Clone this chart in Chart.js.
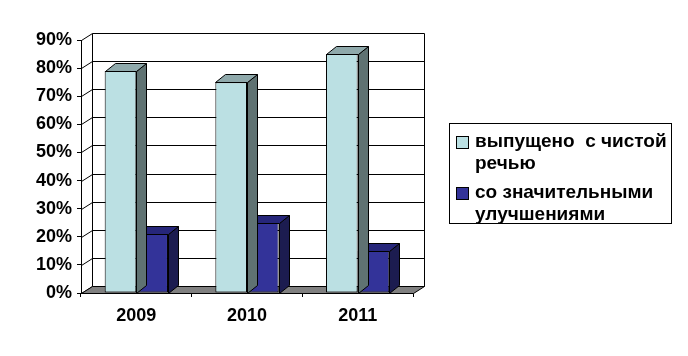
<!DOCTYPE html>
<html><head><meta charset="utf-8">
<script src="https://cdn.jsdelivr.net/npm/chart.js@4"></script>
<style>
html,body{margin:0;padding:0;background:#fff;}
#wrap{position:relative;width:688px;height:356px;overflow:hidden;}
#c{position:absolute;left:0;top:0;}
#legend{position:absolute;left:449px;top:123px;width:223px;height:101px;border:1px solid #000;box-sizing:border-box;background:#fff;
 font:bold 19px "Liberation Sans",Arial,sans-serif;color:#000;}
.item{position:absolute;left:0;}
.mk{position:absolute;left:6px;width:13px;height:13px;box-sizing:border-box;border:1px solid #000;}
.tx{position:absolute;left:25px;line-height:22px;white-space:pre;}
</style>
</head><body>
<div id="wrap"><canvas id="c" width="688" height="356"></canvas><div id="legend"></div></div>
<script>
const categories = ["2009", "2010", "2011"];
const seriesNames = [["выпущено  с чистой", "речью"], ["со значительными", "улучшениями"]];
const cleanSpeech = [79, 75, 85];
const improved = [21, 25, 15];
const yTicks = [0, 10, 20, 30, 40, 50, 60, 70, 80, 90];

const FONT = '"Liberation Sans", Arial, sans-serif';
const frontColors = ["#BBE0E3", "#333399"];
const topColors = ["#8FA9AB", "#26267A"];
const sideColors = ["#5F7272", "#1C1C50"];
const WDX = 11, WDY = -7;   // wall depth
const BDX = 10, BDY = -8;   // bar depth

function poly(ctx, pts, fill) {
  ctx.beginPath();
  ctx.moveTo(pts[0][0], pts[0][1]);
  for (let i = 1; i < pts.length; i++) ctx.lineTo(pts[i][0], pts[i][1]);
  ctx.closePath();
  if (fill) { ctx.fillStyle = fill; ctx.fill(); }
  ctx.strokeStyle = "#000"; ctx.lineWidth = 1; ctx.stroke();
}

const threeD = {
  id: "threeD",
  beforeDatasetsDraw(chart) {
    const ctx = chart.ctx, a = chart.chartArea, ys = chart.scales.y;
    ctx.save();
    ctx.translate(0.5, 0.5);
    const L = Math.round(a.left), R = Math.round(a.right), B = Math.round(a.bottom);
    ctx.strokeStyle = "#000"; ctx.lineWidth = 1;
    yTicks.forEach(v => {
      const y = Math.round(ys.getPixelForValue(v));
      ctx.beginPath();
      ctx.moveTo(L, y); ctx.lineTo(L + WDX, y + WDY);
      ctx.lineTo(R + WDX, y + WDY);
      ctx.stroke();
    });
    const T = Math.round(ys.getPixelForValue(yTicks[yTicks.length - 1]));
    ctx.beginPath();
    ctx.moveTo(L + WDX, T + WDY); ctx.lineTo(L + WDX, B + WDY);
    ctx.moveTo(R + WDX, T + WDY); ctx.lineTo(R + WDX, B + WDY);
    ctx.stroke();
    poly(ctx, [[L, B], [R, B], [R + WDX, B + WDY], [L + WDX, B + WDY]], "#808080");
    ctx.restore();
  },
  afterDatasetDraw(chart, args) {
    const ctx = chart.ctx, meta = chart.getDatasetMeta(args.index);
    const i = args.index;
    ctx.save();
    ctx.translate(0.5, 0.5);
    meta.data.forEach(bar => {
      const p = bar.getProps(["x", "y", "base", "width"], true);
      const x0 = Math.round(p.x - p.width / 2), x1 = Math.round(p.x + p.width / 2);
      const y0 = Math.round(p.y), yb = Math.round(p.base);
      poly(ctx, [[x1, y0], [x1 + BDX, y0 + BDY], [x1 + BDX, yb + BDY], [x1, yb]], sideColors[i]);
      poly(ctx, [[x0, y0], [x0 + BDX, y0 + BDY], [x1 + BDX, y0 + BDY], [x1, y0]], topColors[i]);
    });
    ctx.restore();
  }
};

const chart = new Chart(document.getElementById("c"), {
  type: "bar",
  data: {
    labels: categories,
    datasets: [
      { label: seriesNames[0].join(" "), data: cleanSpeech, backgroundColor: frontColors[0], borderColor: "#000", borderWidth: 1, borderSkipped: false },
      { label: seriesNames[1].join(" "), data: improved, backgroundColor: frontColors[1], borderColor: "#000", borderWidth: 1, borderSkipped: false }
    ]
  },
  options: {
    responsive: false,
    animation: false,
    devicePixelRatio: 1,
    layout: { padding: { left: 0, top: 40, right: 275, bottom: 0 } },
    datasets: { bar: { categoryPercentage: 0.572, barPercentage: 1.0 } },
    plugins: { legend: { display: false }, tooltip: { enabled: false } },
    scales: {
      x: {
        afterFit(s) { s.height = 63; },
        grid: { display: true, drawOnChartArea: false, drawTicks: true, tickLength: 4, offset: true, color: "#000" },
        border: { display: true, color: "#000" },
        ticks: { color: "#000", padding: 8, font: { family: FONT, size: 18, weight: "bold" } }
      },
      y: {
        min: 0, max: 90,
        afterFit(s) { s.width = 81; },
        afterBuildTicks(s) { s.ticks = yTicks.map(v => ({ value: v })); },
        grid: { display: true, drawOnChartArea: false, drawTicks: true, tickLength: 4, color: "#000" },
        border: { display: true, color: "#000" },
        ticks: { color: "#000", padding: 5, callback: v => v + "%", font: { family: FONT, size: 18, weight: "bold" } }
      }
    }
  },
  plugins: [threeD]
});

const lg = document.getElementById("legend");
const itemTops = [6, 57];
seriesNames.forEach((lines, i) => {
  const it = document.createElement("div");
  it.className = "item";
  it.style.top = itemTops[i] + "px";
  const mk = document.createElement("div");
  mk.className = "mk";
  mk.style.top = "6px";
  mk.style.background = frontColors[i];
  const tx = document.createElement("div");
  tx.className = "tx";
  tx.textContent = lines.join("\n");
  it.appendChild(mk); it.appendChild(tx);
  lg.appendChild(it);
});
</script>
</body></html>
